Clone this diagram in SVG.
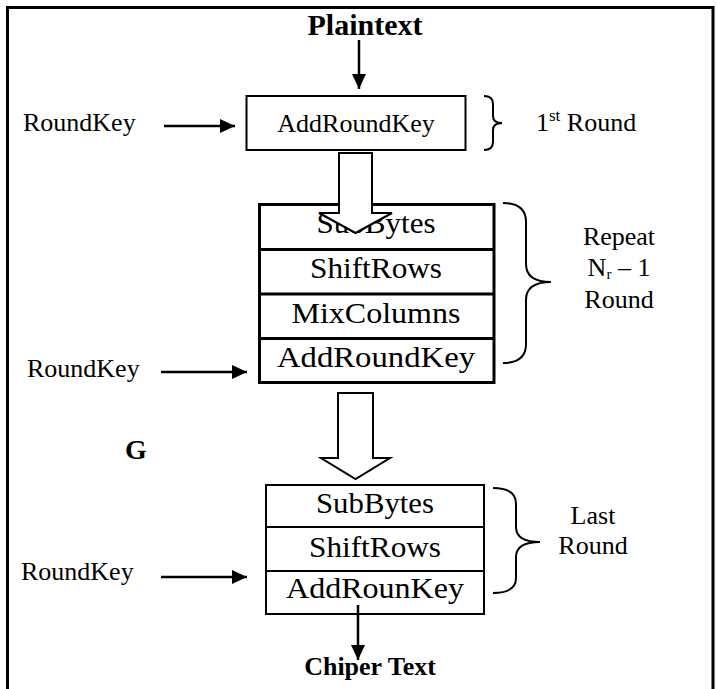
<svg xmlns="http://www.w3.org/2000/svg" width="716" height="689" viewBox="0 0 716 689">
  <defs>
    <marker id="head" markerWidth="15" markerHeight="14" refX="15" refY="7" orient="auto" markerUnits="userSpaceOnUse">
      <path d="M0,0 L15,7 L0,14 Z" fill="#000"/>
    </marker>
    <style>
      .lbl { font-family: "Liberation Serif", "Times New Roman", serif; font-size: 26px; fill: #000; }
      .bold { font-family: "Liberation Serif", "Times New Roman", serif; font-weight: bold; fill: #000; }
      .step { font-family: "Liberation Serif", "Times New Roman", serif; font-size: 30px; fill: #000; text-anchor: middle; }
      .box { fill: #fff; stroke: #000; }
      .wire { stroke: #000; stroke-width: 2.5; fill: none; }
      .brace { stroke: #000; stroke-width: 2; fill: none; }
      .hollow { fill: #fff; stroke: #000; stroke-width: 2; stroke-linejoin: miter; }
    </style>
  </defs>

  <rect width="716" height="689" fill="#fff"/>

  <!-- frame (open at the bottom) -->
  <path d="M7.5,689 V7.5 H713 V689" fill="none" stroke="#000" stroke-width="3"/>

  <!-- side labels -->
  <g id="plaintext">
    <text class="bold" x="365" y="35" font-size="30" text-anchor="middle">Plaintext</text>
  </g>
  <g id="roundkey-1">
    <text class="lbl" x="23" y="131">RoundKey</text>
  </g>
  <g id="roundkey-2">
    <text class="lbl" x="27" y="377">RoundKey</text>
  </g>
  <g id="roundkey-3">
    <text class="lbl" x="21" y="580">RoundKey</text>
  </g>
  <g id="g-label">
    <text class="bold" x="125" y="459" font-size="28">G</text>
  </g>
  <g id="ciphertext">
    <text class="bold" x="370" y="675" font-size="26" text-anchor="middle">Chiper Text</text>
  </g>

  <!-- first round -->
  <g id="round-first">
    <rect class="box" x="246.5" y="96" width="219" height="54" stroke-width="2"/>
    <text class="lbl" x="356" y="132" text-anchor="middle">AddRoundKey</text>
  </g>

  <!-- main rounds -->
  <g id="round-main">
    <rect class="box" x="259.5" y="204.5" width="234.5" height="178" stroke-width="3"/>
    <line x1="259.5" y1="249.5" x2="494" y2="249.5" stroke="#000" stroke-width="3"/>
    <line x1="259.5" y1="294" x2="494" y2="294" stroke="#000" stroke-width="3"/>
    <line x1="259.5" y1="338.5" x2="494" y2="338.5" stroke="#000" stroke-width="3"/>
    <text class="step" x="376" y="233" textLength="119" lengthAdjust="spacingAndGlyphs">SubBytes</text>
    <text class="step" x="376" y="278" textLength="132" lengthAdjust="spacingAndGlyphs">ShiftRows</text>
    <text class="step" x="376" y="323" textLength="169" lengthAdjust="spacingAndGlyphs">MixColumns</text>
    <text class="step" x="376" y="367" textLength="198" lengthAdjust="spacingAndGlyphs">AddRoundKey</text>
  </g>

  <!-- final round -->
  <g id="round-last">
    <rect class="box" x="266" y="485" width="218" height="129" stroke-width="2"/>
    <line x1="266" y1="527" x2="484" y2="527" stroke="#000" stroke-width="2"/>
    <line x1="266" y1="571" x2="484" y2="571" stroke="#000" stroke-width="2"/>
    <text class="step" x="375" y="513" textLength="118" lengthAdjust="spacingAndGlyphs">SubBytes</text>
    <text class="step" x="375" y="557" textLength="132" lengthAdjust="spacingAndGlyphs">ShiftRows</text>
    <text class="step" x="375" y="598" textLength="178" lengthAdjust="spacingAndGlyphs">AddRounKey</text>
  </g>

  <!-- round annotations -->
  <g id="note-first">
    <path class="brace" d="M484,96 Q493,96 493,104 L493,116 Q493,123 502,123 Q493,123 493,130 L493,142 Q493,150 484,150"/>
    <text class="lbl" x="536" y="131">1<tspan font-size="17" dy="-10">st</tspan><tspan dy="10"> Round</tspan></text>
  </g>
  <g id="note-main">
    <path class="brace" d="M503,203 Q526,203 526,222 L526,264 Q526,282 551,282 Q526,282 526,300 L526,344 Q526,363 503,363"/>
    <text class="lbl" x="619" y="245" text-anchor="middle">Repeat</text>
    <text class="lbl" x="619" y="276" text-anchor="middle">N<tspan font-size="15" dy="3">r</tspan><tspan dy="-3"> – 1</tspan></text>
    <text class="lbl" x="619" y="308" text-anchor="middle">Round</text>
  </g>
  <g id="note-last">
    <path class="brace" d="M493,488 Q516,488 516,504 L516,527 Q516,542 540,542 Q516,542 516,557 L516,578 Q516,593 493,593"/>
    <text class="lbl" x="593" y="524" text-anchor="middle">Last</text>
    <text class="lbl" x="593" y="554" text-anchor="middle">Round</text>
  </g>

  <!-- connectors -->
  <g id="connectors">
    <line class="wire" x1="359" y1="40" x2="359" y2="89" marker-end="url(#head)"/>
    <line class="wire" x1="164" y1="126" x2="235" y2="126" marker-end="url(#head)"/>
    <line class="wire" x1="161" y1="372" x2="247" y2="372" marker-end="url(#head)"/>
    <line class="wire" x1="161" y1="577" x2="247" y2="577" marker-end="url(#head)"/>
    <line class="wire" x1="358" y1="605" x2="358" y2="660" marker-end="url(#head)"/>
    <polygon class="hollow" points="339,153 372,153 372,213 392,213 355.5,233 319,213 339,213"/>
    <polygon class="hollow" points="338,393 373,393 373,458 390,458 355.5,479 321,458 338,458"/>
  </g>
</svg>
